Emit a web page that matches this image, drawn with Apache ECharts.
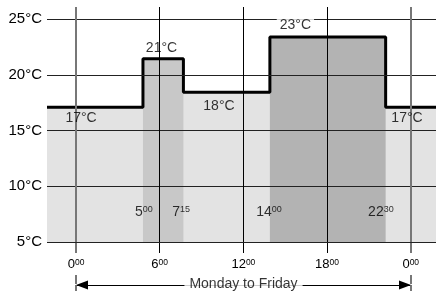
<!DOCTYPE html>
<html>
<head>
<meta charset="utf-8">
<script src="https://cdn.jsdelivr.net/npm/echarts@6/dist/echarts.min.js"></script>
<style>
  html, body { margin: 0; padding: 0; background: #fff; }
  #chart { width: 436px; height: 291px; }
</style>
</head>
<body>
<div id="chart"></div>
<script>
// set-point profile: hour where a level starts and the level drawn from there on
const stepHours = [-2.08, 4.8, 7.7, 13.9, 22.2, 25.81];
const stepTemps = [17.1, 21.45, 18.45, 23.4, 17.1, 17.1];

// comfort periods, shaded darker
const blockFrom = [4.8, 13.9];
const blockTo = [7.7, 22.2];
const blockTemps = [21.45, 23.4];

const hourTicks = [0, 6, 12, 18, 24];
const tempTicks = [5, 10, 15, 20, 25];

const tempLabels = ['17°C', '21°C', '18°C', '23°C', '17°C'];
const tempLabelHours = [0.36, 6.13, 10.25, 15.73, 23.73];
const tempLabelTemps = [16.1, 22.4, 17.2, 24.45, 16.1];

const switchHour = ['5', '7', '14', '22'];
const switchMin = ['00', '15', '00', '30'];
const switchLabelHours = [4.87, 7.53, 13.84, 21.86];
const switchLabelTemp = 7.7;

const periodLabel = 'Monday to Friday';
const periodLabelHour = 12;

const FONT = '"Liberation Sans", Arial, sans-serif';
const blockColors = ['#c8c8c8', '#b3b3b3'];

const chart = echarts.init(document.getElementById('chart'));

const stepData = stepHours.map((h, i) => [h, stepTemps[i]]);

const supRich = (big, small) => ({
  h: { fontFamily: FONT, fontSize: big, lineHeight: big, color: '#000' },
  m: { fontFamily: FONT, fontSize: small, lineHeight: small, color: '#000', verticalAlign: 'top' }
});

const topLabel = tempLabelTemps.indexOf(Math.max(...tempLabelTemps));

const series = [
  {
    name: 'fill',
    type: 'line',
    step: 'end',
    data: stepData,
    symbol: 'none',
    lineStyle: { width: 0 },
    areaStyle: { color: '#e3e3e3', opacity: 1, origin: 'start' },
    silent: true,
    z: 1
  }
];

blockFrom.forEach((from, i) => {
  series.push({
    type: 'line',
    data: [[from, blockTemps[i]], [blockTo[i], blockTemps[i]]],
    symbol: 'none',
    lineStyle: { width: 0 },
    areaStyle: { color: blockColors[i], opacity: 1, origin: 'start' },
    silent: true,
    z: 2
  });
});

series.push({
  name: 'grid',
  type: 'line',
  data: stepData,
  symbol: 'none',
  lineStyle: { opacity: 0 },
  silent: true,
  z: 3,
  markLine: {
    silent: true,
    symbol: 'none',
    label: { show: false },
    animation: false,
    data: tempTicks.map(t => ({ yAxis: t, lineStyle: { color: '#222', width: 1, type: 'solid' } }))
      .concat(hourTicks.map(h => ({
        xAxis: h,
        lineStyle: (h % 24 === 0) ? { color: '#777', width: 2, type: 'solid' } : { color: '#000', width: 1, type: 'solid' }
      })))
  }
});

series.push({
  name: 'setpoint',
  type: 'line',
  step: 'end',
  data: stepData,
  symbol: 'none',
  lineStyle: { color: '#000', width: 3 },
  silent: true,
  z: 4
});

series.push({
  type: 'scatter',
  symbolSize: 0,
  silent: true,
  z: 5,
  data: tempLabels.map((t, i) => ({
    name: t,
    value: [tempLabelHours[i], tempLabelTemps[i]],
    label: i === topLabel ? { backgroundColor: '#fff', padding: [1, 3] } : {}
  })),
  label: {
    show: true,
    position: 'inside',
    formatter: p => p.name,
    fontFamily: FONT,
    fontSize: 14,
    color: '#000'
  }
});

series.push({
  type: 'scatter',
  symbolSize: 0,
  silent: true,
  z: 5,
  data: switchHour.map((h, i) => ({
    name: '{h|' + h + '}{m|' + switchMin[i] + '}',
    value: [switchLabelHours[i], switchLabelTemp]
  })),
  label: {
    show: true,
    position: 'inside',
    formatter: p => p.name,
    rich: supRich(14, 9)
  }
});

series.push({
  type: 'scatter',
  xAxisIndex: 2,
  yAxisIndex: 1,
  symbolSize: 0,
  silent: true,
  z: 5,
  data: [{ name: periodLabel, value: [periodLabelHour, 0.5] }],
  label: {
    show: true,
    position: 'inside',
    formatter: p => p.name,
    fontFamily: FONT,
    fontSize: 14,
    color: '#000',
    backgroundColor: '#fff',
    padding: [0, 5]
  }
});

chart.setOption({
  animation: false,
  grid: [
    { left: 47, right: 0, top: 7, bottom: 49 },
    { left: 76, right: 25, top: 284, height: 1 }
  ],
  xAxis: [
    {
      gridIndex: 0, type: 'value', min: -2.08, max: 25.81,
      axisLine: { show: false },
      splitLine: { show: false },
      axisTick: { customValues: [6, 12, 18], length: 11, lineStyle: { color: '#000', width: 1 } },
      axisLabel: {
        customValues: hourTicks,
        margin: 16,
        formatter: v => '{h|' + (v % 24) + '}{m|00}',
        rich: supRich(13, 8.5)
      }
    },
    {
      gridIndex: 0, type: 'value', min: -2.08, max: 25.81, position: 'bottom',
      axisLine: { show: false },
      splitLine: { show: false },
      axisLabel: { show: false },
      axisTick: { customValues: [0, 24], length: 11, lineStyle: { color: '#777', width: 2 } }
    },
    {
      gridIndex: 1, type: 'value', min: 0, max: 24, interval: 24, position: 'bottom',
      axisLine: {
        show: true,
        symbol: ['triangle', 'triangle'],
        symbolSize: [9, 12],
        symbolOffset: [6, -6],
        lineStyle: { color: '#000', width: 1 }
      },
      splitLine: { show: false },
      axisLabel: { show: false },
      axisTick: { length: 8, lineStyle: { color: '#777', width: 2 } }
    },
    {
      gridIndex: 1, type: 'value', min: 0, max: 24, interval: 24, position: 'top',
      axisLine: { show: false },
      splitLine: { show: false },
      axisLabel: { show: false },
      axisTick: { length: 9, lineStyle: { color: '#777', width: 2 } }
    }
  ],
  yAxis: [
    {
      gridIndex: 0, type: 'value', min: 5, max: 26.1, interval: 5,
      axisLine: { show: false },
      axisTick: { show: false },
      splitLine: { show: false },
      axisLabel: {
        showMaxLabel: false,
        margin: 5,
        formatter: '{value}°C',
        fontFamily: FONT,
        fontSize: 15,
        color: '#000'
      }
    },
    {
      gridIndex: 1, type: 'value', min: 0, max: 1, show: false
    }
  ],
  series: series
});
</script>
</body>
</html>
